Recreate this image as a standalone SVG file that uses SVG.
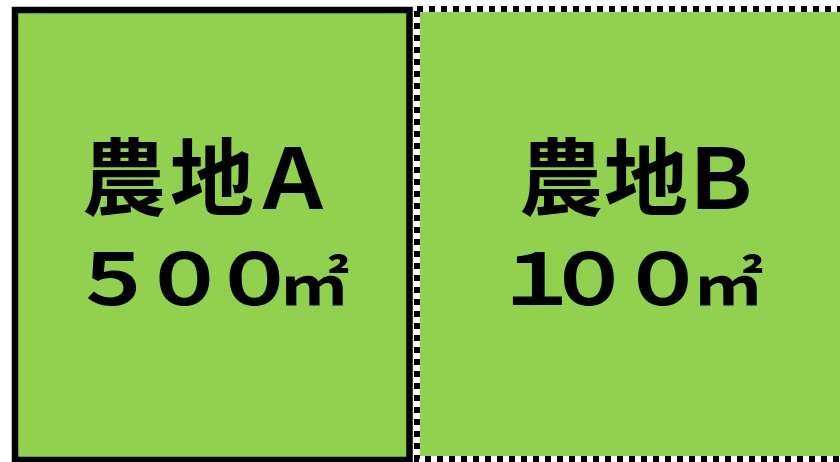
<svg xmlns="http://www.w3.org/2000/svg" width="840" height="462" viewBox="0 0 840 462">
<style>
.field{fill:#92D050}
.solid{stroke:#000;stroke-width:6.5}
.under{fill:none;stroke:#fff;stroke-width:6}
.dash{fill:none;stroke:#000;stroke-width:6;stroke-dasharray:6 6}
.lbl{font-family:"Noto Sans CJK JP","Noto Sans",sans-serif;font-weight:700;fill:#000;text-anchor:middle}
.l1{font-size:84px}
.l2{font-size:72px}
.sq{font-size:58px}
</style>
<rect width="840" height="462" fill="#fff"/>
<g id="fieldA">
<rect class="field solid" x="15" y="10" width="394.5" height="450"/>
<text class="lbl l1" x="124 212 293" y="209">農地Ａ</text>
<text class="lbl l2" transform="scale(1.2,1)" x="94.2 153.8 212.1 262" y="305">５００<tspan class="sq">㎡</tspan></text>
</g>
<g id="fieldB">
<rect class="field" x="417" y="9" width="430" height="450"/>
<rect class="under" x="417" y="9" width="430" height="450"/>
<rect class="dash" x="417" y="9" width="430" height="450"/>
<text class="lbl l1" x="561 646 721" y="209">農地Ｂ</text>
<text class="lbl l2" transform="scale(1.2,1)" x="447.5 490.8 552.5 607" y="305">１００<tspan class="sq">㎡</tspan></text>
</g>
<g id="connectors"></g>
</svg>
